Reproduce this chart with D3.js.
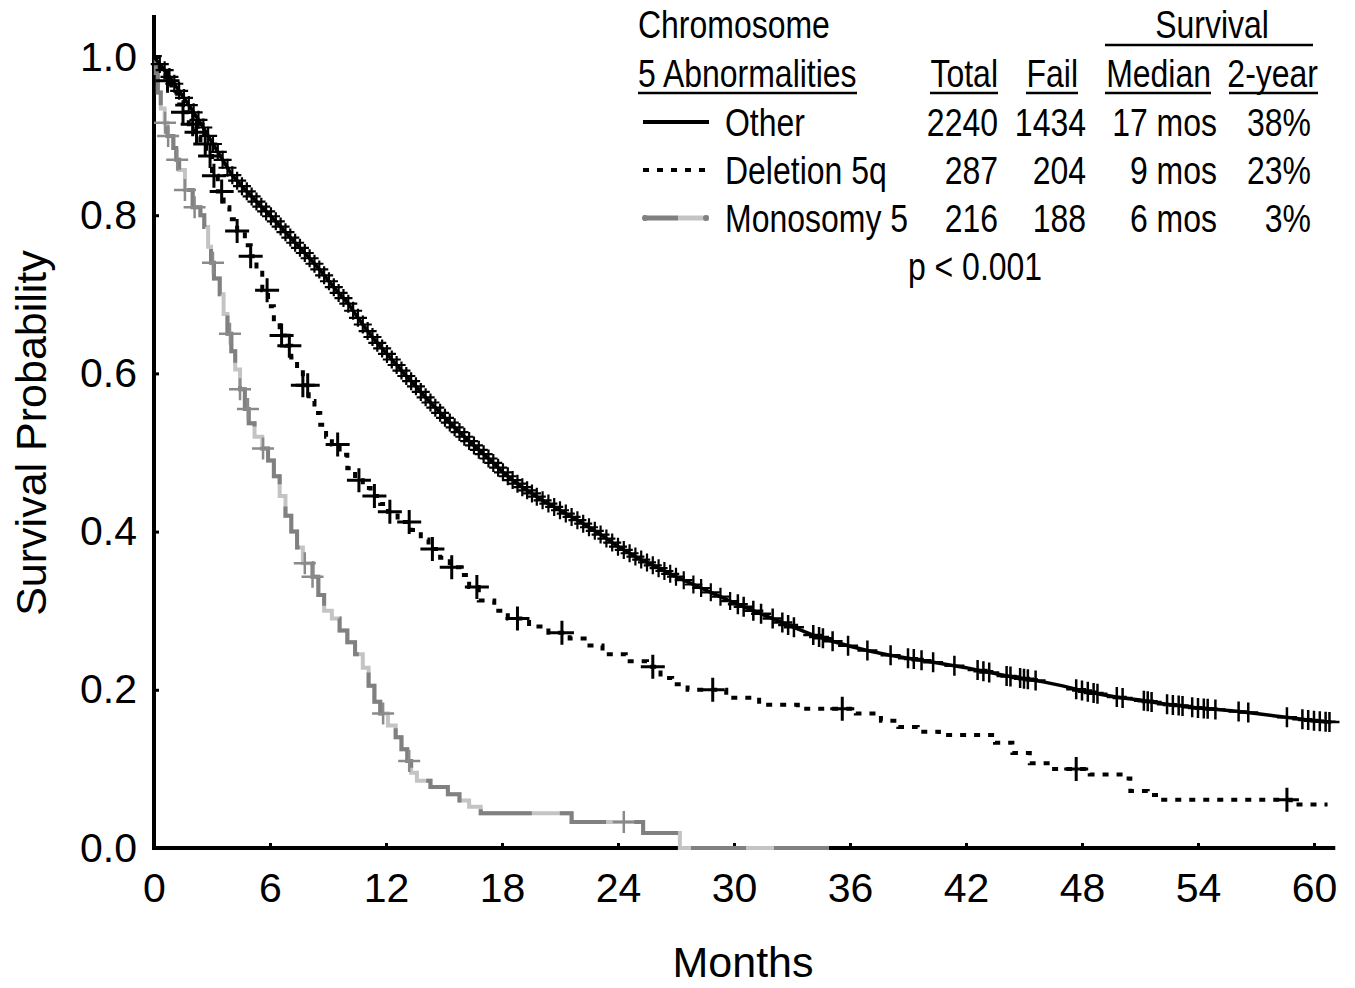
<!DOCTYPE html>
<html>
<head>
<meta charset="utf-8">
<script src="https://cdn.jsdelivr.net/npm/d3@7"></script>
<style>
  body { margin: 0; background: #fff; }
  text { font-family: 'Liberation Sans', Arial, sans-serif; fill: #000; }
</style>
</head>
<body>
<div id="chart"></div>
<script>
(function() {
  var width = 1355,
      height = 988;

  // --- data (months, survival probability) ---
  var xTicks = [0, 6, 12, 18, 24, 30, 36, 42, 48, 54, 60];
  var yTicks = [0, 0.2, 0.4, 0.6, 0.8, 1.0];

  var otherTimes = [0, 0.5, 1, 1.5, 2, 2.5, 3, 3.5, 4, 4.5, 5, 5.5, 6, 6.5, 7, 7.5, 8, 8.5, 9, 9.5,
    10, 10.5, 11, 11.5, 12, 12.5, 13, 13.5, 14, 14.5, 15, 15.5, 16, 16.5, 17, 17.5, 18, 18.5, 19, 19.5,
    20, 21, 22, 23, 24, 25, 26, 27, 28, 29, 30, 31, 32, 33, 34, 35, 36, 37, 38, 39, 40, 41, 42, 43,
    44, 45, 46, 47, 48, 49, 50, 51, 52, 53, 54, 55, 56, 57, 58, 59, 60, 60.9];
  var otherSurv = [1.0, 0.985, 0.968, 0.95, 0.932, 0.913, 0.892, 0.872, 0.852, 0.838, 0.825, 0.812, 0.80, 0.787, 0.773, 0.76, 0.747, 0.733, 0.718, 0.703,
    0.69, 0.672, 0.655, 0.64, 0.626, 0.612, 0.598, 0.585, 0.571, 0.558, 0.545, 0.533, 0.521, 0.51, 0.499, 0.488, 0.476, 0.466, 0.457, 0.449,
    0.441, 0.427, 0.413, 0.398, 0.381, 0.367, 0.355, 0.343, 0.332, 0.321, 0.31, 0.30, 0.29, 0.28, 0.27, 0.262, 0.255, 0.249, 0.244, 0.24, 0.236, 0.232, 0.228, 0.223,
    0.218, 0.214, 0.21, 0.205, 0.199, 0.194, 0.19, 0.187, 0.183, 0.18, 0.177, 0.175, 0.173, 0.17, 0.167, 0.164, 0.161, 0.159];
  // dense censoring in the first two years, clusters later
  var otherDense = [0.3, 0.55, 0.8, 1.05, 1.3, 1.55, 1.8, 2.05, 2.3, 2.55, 2.8, 3.05, 3.3, 3.55, 3.8, 4.05, 4.3, 4.55,
    4.8, 5.05, 5.3, 5.55, 5.8, 6.05, 6.3, 6.55, 6.8, 7.05, 7.3, 7.55, 7.8, 8.05, 8.3, 8.55, 8.8, 9.05, 9.3, 9.55,
    9.8, 10.05, 10.3, 10.55, 10.8, 11.05, 11.3, 11.55, 11.8, 12.05, 12.3, 12.55, 12.8, 13.05, 13.3, 13.55, 13.8,
    14.05, 14.3, 14.55, 14.8, 15.05, 15.3, 15.55, 15.8, 16.05, 16.3, 16.55, 16.8, 17.05, 17.3, 17.55, 17.8, 18.05,
    18.3, 18.55, 18.8, 19.05, 19.3, 19.55, 19.8, 20.1, 20.4, 20.7, 21.0, 21.3, 21.6, 21.9, 22.2, 22.5, 22.8, 23.1,
    23.4, 23.7, 24.0, 24.3, 24.6, 24.9, 25.2, 25.5, 25.8, 26.1, 26.4, 26.7, 27.0, 27.4, 27.9, 28.3, 28.8, 29.3, 29.8];
  var otherCensor = [30.2, 30.5, 31.0, 31.4, 32.0, 32.5, 32.8, 33.1, 34.1, 34.4, 34.6, 35.1, 35.9, 36.9, 38.1, 39.0,
    39.3, 39.7, 40.3, 41.4, 42.6, 42.9, 43.2, 44.1, 44.3, 44.8, 45.0, 45.2, 45.6, 47.7, 48.0, 48.3, 48.6, 48.8,
    49.8, 50.1, 51.2, 51.4, 51.6, 52.4, 52.7, 53.0, 53.2, 53.7, 54.0, 54.3, 54.5, 54.9, 56.1, 56.6, 58.6, 59.4,
    59.7, 60.0, 60.3, 60.6, 60.8];

  var delTimes = [0, 0.3, 0.6, 0.9, 1.2, 1.5, 1.8, 2.1, 2.4, 2.7, 3.0, 3.3, 3.6, 3.9, 4.3, 4.7, 5.0, 5.3, 5.6, 5.9,
    6.2, 6.5, 6.8, 7.1, 7.4, 7.7, 8.0, 8.3, 8.6, 8.9, 9.2, 9.6, 10.0, 10.4, 10.8, 11.2, 11.7, 12.1, 12.6, 13.3,
    13.8, 14.2, 14.8, 15.3, 15.9, 16.3, 16.8, 17.6, 18.3, 19.4, 20.4, 21.5, 22.4, 23.2, 24.4, 25.5, 26.2, 26.8,
    27.6, 29.6, 31.3, 33.3, 36.3, 37.6, 38.5, 39.5, 40.6, 43.5, 44.4, 45.3, 46.4, 48.4, 50.3, 50.5, 51.4, 52.2, 58.8, 60.7];
  var delSurv = [1, 0.985, 0.97, 0.955, 0.94, 0.93, 0.915, 0.905, 0.89, 0.875, 0.85, 0.83, 0.81, 0.795, 0.78, 0.762, 0.748, 0.73, 0.705, 0.685,
    0.665, 0.648, 0.635, 0.62, 0.605, 0.585, 0.565, 0.55, 0.535, 0.52, 0.51, 0.497, 0.48, 0.465, 0.455, 0.445, 0.435, 0.425, 0.412, 0.402,
    0.39, 0.378, 0.367, 0.355, 0.345, 0.33, 0.313, 0.30, 0.29, 0.28, 0.272, 0.265, 0.256, 0.245, 0.236, 0.229, 0.215, 0.207,
    0.2, 0.19, 0.181, 0.176, 0.17, 0.161, 0.153, 0.147, 0.143, 0.133, 0.12, 0.107, 0.1, 0.093, 0.088, 0.072, 0.067, 0.061, 0.055, 0.055];
  var delCensor = [0.7, 1.5, 2.0, 2.2, 2.65, 2.9, 3.1, 3.5, 4.3, 5.0, 5.85, 6.6, 7.0, 7.7, 7.95, 9.5, 10.6, 11.4,
    12.2, 13.2, 14.4, 15.4, 16.7, 18.8, 21.1, 25.8, 28.9, 35.6, 47.7, 58.6];

  var monoTimes = [0, 0.1, 0.2, 0.35, 0.55, 0.7, 1.0, 1.15, 1.3, 1.6, 2.0, 2.4, 2.6, 2.8, 2.95, 3.1, 3.4, 3.6, 3.8, 4.0,
    4.2, 4.45, 4.7, 4.9, 5.2, 5.6, 5.9, 6.2, 6.5, 6.8, 7.1, 7.4, 7.7, 8.2, 8.5, 8.8, 9.2, 9.6, 10.0, 10.4,
    10.8, 11.1, 11.4, 11.7, 12.1, 12.5, 12.8, 13.1, 13.3, 13.6, 14.3, 15.2, 15.8, 16.3, 16.9, 21.6, 25.3, 27.2, 34.9];
  var monoSurv = [1.0, 0.98, 0.955, 0.935, 0.917, 0.9, 0.885, 0.87, 0.857, 0.832, 0.81, 0.8, 0.785, 0.76, 0.74, 0.72, 0.7, 0.675, 0.65, 0.628,
    0.605, 0.58, 0.555, 0.537, 0.52, 0.505, 0.49, 0.47, 0.445, 0.42, 0.40, 0.38, 0.36, 0.343, 0.32, 0.30, 0.29, 0.275, 0.26, 0.245,
    0.228, 0.205, 0.185, 0.17, 0.155, 0.14, 0.125, 0.11, 0.095, 0.085, 0.077, 0.068, 0.06, 0.052, 0.044, 0.033, 0.019, 0.0, 0.0];
  var monoCensor = [0.57, 0.73, 1.2, 1.6, 2.1, 3.05, 3.93, 4.45, 4.86, 5.64, 7.8, 8.2, 11.85, 13.2, 24.3];

  // legend table
  var groups = ['Other', 'Deletion 5q', 'Monosomy 5'];
  var totals = ['2240', '287', '216'];
  var fails = ['1434', '204', '188'];
  var medians = ['17 mos', '9 mos', '6 mos'];
  var twoYear = ['38%', '23%', '3%'];

  var svg = d3.select('#chart').append('svg')
      .attr('width', width)
      .attr('height', height);

  var x = d3.scaleLinear().domain([0, 60]).range([154, 1314]);
  var y = d3.scaleLinear().domain([0, 1]).range([848, 57]);

  // axes lines (drawn a little past the domain like the original)
  svg.append('line')
      .attr('x1', x(0)).attr('x2', x(0))
      .attr('y1', y(0) + 2).attr('y2', y(1.053))
      .attr('stroke', '#000').attr('stroke-width', 4);
  svg.append('line')
      .attr('x1', x(0) - 2).attr('x2', x(61.1))
      .attr('y1', y(0)).attr('y2', y(0))
      .attr('stroke', '#000').attr('stroke-width', 4);

  var xAxis = svg.append('g')
      .attr('transform', 'translate(0,' + y(0) + ')')
      .call(d3.axisBottom(x).tickValues(xTicks).tickSize(-5).tickSizeOuter(0).tickPadding(25));
  var yAxis = svg.append('g')
      .attr('transform', 'translate(' + x(0) + ',0)')
      .call(d3.axisLeft(y).tickValues(yTicks).tickSize(-5).tickSizeOuter(0).tickPadding(17)
        .tickFormat(d3.format('.1f')));

  [xAxis, yAxis].forEach(function(g) {
    g.select('.domain').remove();
    g.selectAll('.tick line').attr('stroke', '#000').attr('stroke-width', 3);
    g.selectAll('.tick text')
      .style('font-family', "'Liberation Sans', Arial, sans-serif")
      .style('font-size', '41px')
      .attr('fill', '#000');
  });

  svg.append('text')
      .attr('x', 743).attr('y', 977)
      .attr('text-anchor', 'middle')
      .style('font-size', '43px')
      .text('Months');
  svg.append('text')
      .attr('transform', 'translate(46,433) rotate(-90)')
      .attr('text-anchor', 'middle')
      .style('font-size', '43px')
      .text('Survival Probability');

  // --- curves ---
  var toPts = function(times, surv) {
    return times.map(function(t, i) { return [t, surv[i]]; });
  };
  var stepLine = d3.line()
      .x(function(d) { return x(d[0]); })
      .y(function(d) { return y(d[1]); })
      .curve(d3.curveStepAfter);
  // the large group has such tiny steps that it reads as a smooth line
  var smoothLine = d3.line()
      .x(function(d) { return x(d[0]); })
      .y(function(d) { return y(d[1]); });

  var stepAt = function(times, surv, t) {
    var i = d3.bisectRight(times, t) - 1;
    return surv[Math.max(0, i)];
  };
  var lineAt = function(times, surv, t) {
    var i = Math.min(times.length - 2, Math.max(0, d3.bisectRight(times, t) - 1));
    var f = (t - times[i]) / (times[i + 1] - times[i]);
    return surv[i] + Math.max(0, Math.min(1, f)) * (surv[i + 1] - surv[i]);
  };

  var plus = function(s) {
    return 'M' + (-s) + ',0h' + (2 * s) + 'M0,' + (-s) + 'v' + (2 * s);
  };

  var drawCensor = function(times, surv, marks, at, color, sw, s) {
    svg.append('g').selectAll('path')
      .data(marks)
      .enter()
      .append('path')
      .attr('transform', function(t) {
        return 'translate(' + x(t) + ',' + y(at(times, surv, t)) + ')';
      })
      .attr('d', plus(s))
      .attr('fill', 'none')
      .attr('stroke', color)
      .attr('stroke-width', sw);
  };

  // Monosomy 5: alternating dark / light grey
  var monoPts = toPts(monoTimes, monoSurv);
  svg.append('path').attr('d', stepLine(monoPts))
      .attr('fill', 'none').attr('stroke', '#c4c4c4').attr('stroke-width', 4);
  svg.append('path').attr('d', stepLine(monoPts))
      .attr('fill', 'none').attr('stroke', '#808080').attr('stroke-width', 4)
      .attr('stroke-dasharray', '55,28');
  drawCensor(monoTimes, monoSurv, monoCensor, stepAt, '#8a8a8a', 2.5, 11);

  // Deletion 5q: dotted black
  svg.append('path').attr('d', stepLine(toPts(delTimes, delSurv)))
      .attr('fill', 'none').attr('stroke', '#000').attr('stroke-width', 4)
      .attr('stroke-dasharray', '6,8');
  drawCensor(delTimes, delSurv, delCensor, stepAt, '#000', 3, 12);

  // Other: solid black
  svg.append('path').attr('d', smoothLine(toPts(otherTimes, otherSurv)))
      .attr('fill', 'none').attr('stroke', '#000').attr('stroke-width', 3.5);
  drawCensor(otherTimes, otherSurv, otherDense, lineAt, '#000', 2.2, 9);
  drawCensor(otherTimes, otherSurv, otherCensor, lineAt, '#000', 2.5, 10);

  // --- legend table (narrow type) ---
  var leg = svg.append('g');
  var legText = function(px, py, str, anchor) {
    return leg.append('text')
      .attr('transform', 'translate(' + px + ',' + py + ') scale(0.82,1)')
      .attr('text-anchor', anchor || 'start')
      .style('font-size', '39px')
      .text(str);
  };
  var uline = function(x1, x2, py) {
    leg.append('line')
      .attr('x1', x1).attr('x2', x2).attr('y1', py).attr('y2', py)
      .attr('stroke', '#000').attr('stroke-width', 2.5);
  };

  legText(638, 38, 'Chromosome');
  legText(1212, 38, 'Survival', 'middle');
  uline(1105, 1313, 45);

  legText(638, 87, '5 Abnormalities');
  uline(638, 857, 93);
  legText(998, 87, 'Total', 'end');
  uline(930, 998, 93);
  legText(1078, 87, 'Fail', 'end');
  uline(1026, 1078, 93);
  legText(1211, 87, 'Median', 'end');
  uline(1105, 1211, 93);
  legText(1318, 87, '2-year', 'end');
  uline(1229, 1318, 93);

  var rowY = [136, 184, 232];
  groups.forEach(function(g, i) {
    legText(725, rowY[i], g);
    legText(998, rowY[i], totals[i], 'end');
    legText(1086, rowY[i], fails[i], 'end');
    legText(1217, rowY[i], medians[i], 'end');
    legText(1311, rowY[i], twoYear[i], 'end');
  });

  // legend line samples
  leg.append('line').attr('x1', 643).attr('x2', 709).attr('y1', 122).attr('y2', 122)
      .attr('stroke', '#000').attr('stroke-width', 4);
  leg.append('line').attr('x1', 643).attr('x2', 709).attr('y1', 170).attr('y2', 170)
      .attr('stroke', '#000').attr('stroke-width', 4).attr('stroke-dasharray', '6,8');
  leg.append('line').attr('x1', 643).attr('x2', 678).attr('y1', 218).attr('y2', 218)
      .attr('stroke', '#808080').attr('stroke-width', 5);
  leg.append('line').attr('x1', 678).attr('x2', 709).attr('y1', 218).attr('y2', 218)
      .attr('stroke', '#c4c4c4').attr('stroke-width', 5);
  leg.append('circle').attr('cx', 645).attr('cy', 218).attr('r', 3).attr('fill', '#808080');
  leg.append('circle').attr('cx', 706).attr('cy', 218).attr('r', 3).attr('fill', '#808080');

  legText(975, 280, 'p < 0.001', 'middle');
})();
</script>
</body>
</html>
